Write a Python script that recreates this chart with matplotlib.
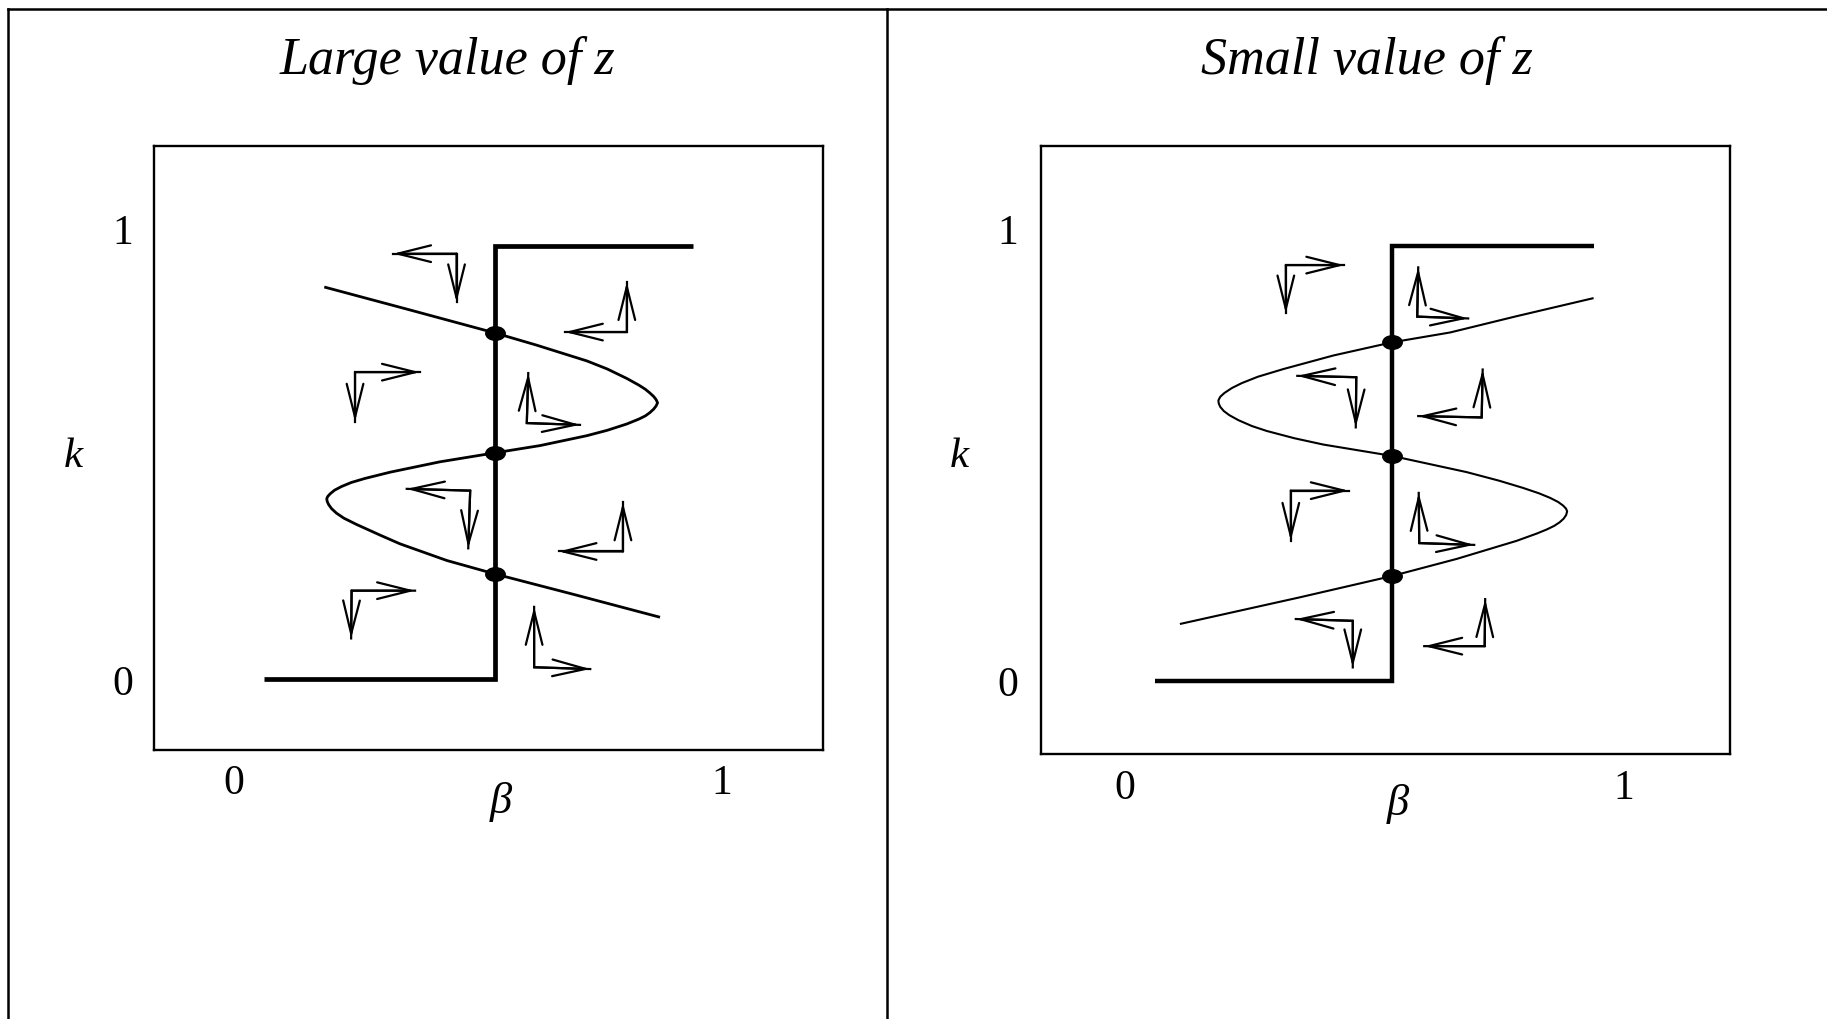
import numpy as np
import matplotlib
matplotlib.use("Agg")
import matplotlib.pyplot as plt
from matplotlib.path import Path
from matplotlib.lines import Line2D

W, H, DPI = 1827, 1020, 100
plt.rcParams['font.family'] = ['Liberation Serif', 'DejaVu Serif']

# ---------------------------------------------------------------- data
titles = ["Large value of z", "Small value of z"]
tick_values = [0, 1]
tick_labels = ["0", "1"]
x_name, y_name = "\u03b2", "k"

# bold best-response step in beta (same in both panels)
step_beta = [0.061, 0.535, 0.535, 0.940]
step_k = [0.0, 0.0, 0.962, 0.962]

# S-shaped k-isocline, large z
large_curve_beta = [0.185, 0.354, 0.535, 0.620, 0.723, 0.765, 0.805, 0.830, 0.843, 0.852,
                    0.860, 0.865, 0.868, 0.865, 0.860, 0.852, 0.843, 0.830, 0.805, 0.765,
                    0.723, 0.627, 0.535, 0.422, 0.320, 0.268, 0.240, 0.220, 0.206, 0.197,
                    0.192, 0.190, 0.191, 0.194, 0.200, 0.210, 0.225, 0.251, 0.300, 0.340,
                    0.436, 0.535, 0.695, 0.873]
large_curve_k = [0.870, 0.821, 0.768, 0.741, 0.706, 0.688, 0.667, 0.652, 0.643, 0.635,
                 0.627, 0.620, 0.613, 0.606, 0.599, 0.591, 0.584, 0.577, 0.566, 0.552,
                 0.540, 0.518, 0.502, 0.482, 0.459, 0.445, 0.436, 0.427, 0.419, 0.411,
                 0.405, 0.400, 0.394, 0.387, 0.378, 0.368, 0.357, 0.343, 0.319, 0.300,
                 0.263, 0.233, 0.188, 0.137]
large_eq_k = [0.768, 0.502, 0.233]

# S-shaped k-isocline, small z
small_curve_beta = [0.939, 0.785, 0.652, 0.535, 0.418, 0.318, 0.267, 0.235, 0.215, 0.200,
                    0.192, 0.189, 0.188, 0.189, 0.192, 0.199, 0.210, 0.228, 0.255, 0.285,
                    0.340, 0.398, 0.535, 0.685, 0.750, 0.798, 0.830, 0.852, 0.868, 0.878,
                    0.884, 0.886, 0.884, 0.879, 0.871, 0.860, 0.845, 0.825, 0.785, 0.665,
                    0.535, 0.351, 0.111]
small_curve_k = [0.846, 0.806, 0.770, 0.748, 0.719, 0.689, 0.672, 0.658, 0.647, 0.636,
                 0.628, 0.622, 0.619, 0.612, 0.605, 0.596, 0.587, 0.576, 0.563, 0.552,
                 0.536, 0.522, 0.497, 0.461, 0.442, 0.426, 0.414, 0.404, 0.395, 0.387,
                 0.380, 0.374, 0.366, 0.358, 0.350, 0.342, 0.334, 0.325, 0.309, 0.269,
                 0.231, 0.184, 0.125]
small_eq_k = [0.748, 0.497, 0.231]
eq_beta = 0.535

# direction-of-motion arrows: corner, horizontal tip, vertical tip
large_corner_beta = [0.456, 0.805, 0.248, 0.600, 0.484, 0.797, 0.241, 0.615]
large_corner_k = [0.944, 0.770, 0.681, 0.568, 0.418, 0.283, 0.196, 0.026]
large_htip_beta = [0.326, 0.678, 0.381, 0.709, 0.354, 0.665, 0.371, 0.730]
large_htip_k = [0.944, 0.770, 0.681, 0.564, 0.422, 0.283, 0.196, 0.022]
large_vtip_beta = [0.456, 0.805, 0.248, 0.603, 0.480, 0.797, 0.240, 0.615]
large_vtip_k = [0.836, 0.881, 0.571, 0.679, 0.290, 0.392, 0.090, 0.160]

small_corner_beta = [0.323, 0.586, 0.464, 0.715, 0.333, 0.590, 0.457, 0.721]
small_corner_k = [0.919, 0.805, 0.671, 0.582, 0.420, 0.304, 0.132, 0.076]
small_htip_beta = [0.440, 0.688, 0.346, 0.588, 0.449, 0.700, 0.343, 0.600]
small_htip_k = [0.919, 0.801, 0.674, 0.585, 0.420, 0.300, 0.136, 0.076]
small_vtip_beta = [0.323, 0.588, 0.463, 0.717, 0.333, 0.589, 0.457, 0.722]
small_vtip_k = [0.812, 0.914, 0.560, 0.688, 0.309, 0.415, 0.029, 0.180]

# ---------------------------------------------------------------- layout
panels = [
    dict(title=titles[0], box=(153.5, 147, 823, 750.7),
         xlim=(-0.165, 1.207), ylim=(-0.157, 1.183),
         curve=(large_curve_beta, large_curve_k), eq_k=large_eq_k, curve_lw=2.0, step_lw=3.4,
         arrows=(large_corner_beta, large_corner_k, large_htip_beta, large_htip_k,
                 large_vtip_beta, large_vtip_k),
         title_xy=(447, 74), k_xy=(73.4, 467), b_xy=(501, 813),
         xpad=10, ypad=14.5),
    dict(title=titles[1], box=(1040.5, 147, 1730.5, 754.5),
         xlim=(-0.168, 1.213), ylim=(-0.1615, 1.1825),
         curve=(small_curve_beta, small_curve_k), eq_k=small_eq_k, curve_lw=1.5, step_lw=3.2,
         arrows=(small_corner_beta, small_corner_k, small_htip_beta, small_htip_k,
                 small_vtip_beta, small_vtip_k),
         title_xy=(1366.5, 74), k_xy=(959, 467), b_xy=(1398, 815),
         xpad=11, ypad=16),
]

fig = plt.figure(figsize=(W / DPI, H / DPI), dpi=DPI)
fig.patch.set_facecolor('white')


def fx(x):
    return x / W


def fy(y):
    return 1 - y / H


# outer table rules
for xs, ys in [((8.3, W), (10, 10)), ((8.3, 8.3), (10, H)), ((887, 887), (10, H))]:
    fig.add_artist(Line2D([fx(v) for v in xs], [fy(v) for v in ys],
                          transform=fig.transFigure, color='black', lw=1.8,
                          solid_capstyle='projecting'))

circ = Path.unit_circle()
dot_marker = Path(circ.vertices * np.array([1.0, 0.7]), circ.codes)

head = '->,head_length=2.4,head_width=0.6'
arrow_lw = 1.6

for p in panels:
    x0, yt, x1, yb = p['box']
    ax = fig.add_axes([fx(x0), fy(yb), (x1 - x0) / W, (yb - yt) / H])
    ax.set_xlim(*p['xlim'])
    ax.set_ylim(*p['ylim'])
    for s in ax.spines.values():
        s.set_linewidth(1.7)
    ax.set_xticks(tick_values)
    ax.set_xticklabels(tick_labels)
    ax.set_yticks(tick_values)
    ax.set_yticklabels(tick_labels)
    ax.tick_params(axis='x', length=0, labelsize=30, pad=p['xpad'])
    ax.tick_params(axis='y', length=0, labelsize=30, pad=p['ypad'])

    # best-response step
    ax.plot(step_beta, step_k, color='black', lw=p['step_lw'],
            solid_joinstyle='miter', solid_capstyle='butt', zorder=3)
    # isocline
    cb, ck = p['curve']
    ax.plot(cb, ck, color='black', lw=p['curve_lw'], solid_joinstyle='round',
            solid_capstyle='butt', zorder=3)
    # equilibria
    ax.plot([eq_beta] * len(p['eq_k']), p['eq_k'], linestyle='none', marker=dot_marker,
            markersize=14, color='black', zorder=4)

    # phase arrows
    cbeta, ckk, hb, hk, vb, vk = p['arrows']
    for i in range(len(cbeta)):
        ax.plot([hb[i], cbeta[i], vb[i]], [hk[i], ckk[i], vk[i]], color='black', lw=arrow_lw,
                solid_joinstyle='miter', zorder=3)
        for tb, tk in ((hb[i], hk[i]), (vb[i], vk[i])):
            ax.annotate('', xy=(tb, tk), xytext=(cbeta[i], ckk[i]),
                        arrowprops=dict(arrowstyle=head, lw=arrow_lw, color='black',
                                        shrinkA=0, shrinkB=0, mutation_scale=10))

    tx, ty = p['title_xy']
    fig.text(fx(tx), fy(ty), p['title'], ha='center', va='baseline',
             fontsize=37.5, style='italic')
    kx, ky = p['k_xy']
    fig.text(fx(kx), fy(ky), y_name, ha='center', va='baseline', fontsize=31, style='italic')
    bx, by = p['b_xy']
    fig.text(fx(bx), fy(by), x_name, ha='center', va='baseline', fontsize=32, style='italic')

fig.savefig('out.png', dpi=DPI, facecolor='white')
